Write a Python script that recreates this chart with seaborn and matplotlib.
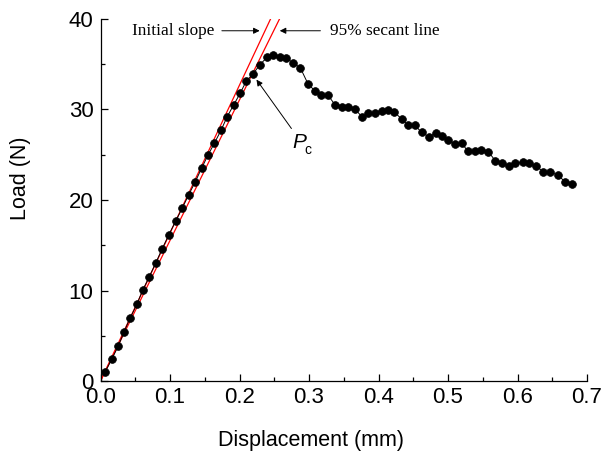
import numpy as np
import pandas as pd
import matplotlib
matplotlib.use('Agg')
import matplotlib.pyplot as plt
from matplotlib.ticker import MultipleLocator
import seaborn as sns

# Load-displacement readings (mm, N)
displacement = [0.0065, 0.0161, 0.0256, 0.0338, 0.0424, 0.0524, 0.0606, 0.0701, 0.0797, 0.0888,
                0.0984, 0.108, 0.1175, 0.1267, 0.1362, 0.1454, 0.1545, 0.164, 0.1736, 0.1822,
                0.1918, 0.2014, 0.210, 0.2195, 0.2292, 0.2397, 0.2483, 0.2579, 0.2675, 0.277,
                0.2876, 0.2986, 0.3082, 0.3178, 0.3273, 0.3374, 0.347, 0.3566, 0.3661, 0.3767,
                0.3853, 0.3948, 0.4045, 0.4131, 0.4227, 0.4332, 0.4428, 0.4523, 0.4619, 0.4724,
                0.482, 0.4907, 0.5003, 0.5098, 0.5194, 0.529, 0.5385, 0.5481, 0.5578, 0.5682,
                0.5779, 0.5874, 0.597, 0.6075, 0.6171, 0.6267, 0.6372, 0.6468, 0.6578, 0.6688,
                0.6784]
load = [0.96, 2.40, 3.87, 5.41, 6.93, 8.48, 10.02, 11.52, 13.07, 14.62,
        16.17, 17.65, 19.08, 20.55, 21.99, 23.50, 24.94, 26.30, 27.73, 29.20,
        30.53, 31.86, 33.18, 33.92, 34.95, 35.77, 36.02, 35.83, 35.66, 35.17,
        34.59, 32.82, 32.08, 31.57, 31.57, 30.53, 30.31, 30.31, 30.02, 29.17,
        29.58, 29.65, 29.87, 29.94, 29.72, 28.95, 28.25, 28.25, 27.48, 26.99,
        27.37, 27.07, 26.63, 26.19, 26.27, 25.38, 25.38, 25.52, 25.34, 24.34,
        24.06, 23.79, 24.06, 24.20, 24.06, 23.79, 23.09, 23.09, 22.76, 21.99,
        21.77]

initial_slope = 163.5   # N/mm
secant_ratio = 0.95
line_x = [0.0, 0.3]

df = pd.DataFrame({'Displacement': displacement, 'Load': load})
df_lines = pd.DataFrame({
    'x': line_x * 2,
    'y': [initial_slope * v for v in line_x] + [secant_ratio * initial_slope * v for v in line_x],
    'line': ['initial'] * 2 + ['secant'] * 2,
})

sns.set_theme(style="ticks")
plt.rcParams['font.family'] = ['Liberation Sans', 'DejaVu Sans']

fig, ax = plt.subplots(figsize=(6.04, 4.61), dpi=100)
fig.subplots_adjust(left=0.1664, right=0.9719, top=0.9588, bottom=0.1735)

# red reference lines
sns.lineplot(data=df_lines, x='x', y='y', units='line', estimator=None,
             color='red', linewidth=0.9, ax=ax, legend=False)

# measured curve
sns.lineplot(data=df, x='Displacement', y='Load', sort=False, color='black',
             linewidth=0.7, marker='o', markersize=5.6, markeredgecolor='black',
             markeredgewidth=0.5, ax=ax)

ax.set_xlim(0, 0.7)
ax.set_ylim(0, 40)
ax.xaxis.set_major_locator(MultipleLocator(0.1))
ax.xaxis.set_minor_locator(MultipleLocator(0.05))
ax.yaxis.set_major_locator(MultipleLocator(10))
ax.yaxis.set_minor_locator(MultipleLocator(5))
ax.xaxis.set_major_formatter(matplotlib.ticker.FormatStrFormatter('%.1f'))

ax.tick_params(which='major', direction='in', length=5, width=0.9, labelsize=16,
               color='black', labelcolor='black', pad=4)
ax.tick_params(which='minor', direction='in', length=3, width=0.9, color='black')
ax.tick_params(axis='y', which='major', pad=5)

for side in ['top', 'right']:
    ax.spines[side].set_visible(False)
for side in ['left', 'bottom']:
    ax.spines[side].set_color('black')
    ax.spines[side].set_linewidth(0.9)

ax.set_xlabel('Displacement (mm)', fontsize=15.5, color='black')
ax.set_ylabel('Load (N)', fontsize=15.5, color='black')
ax.xaxis.set_label_coords(0.433, -0.135)
ax.yaxis.set_label_coords(-0.143, 0.561)

# annotations
serif = ['Liberation Serif', 'DejaVu Serif']
arrow = dict(arrowstyle='-|>', color='black', lw=0.7, mutation_scale=9, shrinkA=0, shrinkB=0)
ax.annotate('', xy=(0.229, 38.7), xytext=(0.1746, 38.7), arrowprops=arrow)
ax.text(0.1645, 38.7, 'Initial slope', family=serif, fontsize=12.4,
        ha='right', va='center', color='black')
ax.annotate('', xy=(0.2579, 38.7), xytext=(0.3164, 38.7), arrowprops=arrow)
ax.text(0.3297, 38.7, '95% secant line', family=serif, fontsize=12.4,
        ha='left', va='center', color='black')

ax.annotate('', xy=(0.2244, 33.3), xytext=(0.2747, 27.9), arrowprops=arrow)
ax.text(0.2755, 26.4, 'P', fontsize=15, style='italic', ha='left', va='center', color='black')
ax.text(0.2935, 25.5, 'c', fontsize=10, ha='left', va='center', color='black')

plt.savefig('out.png', dpi=100)
plt.close()
